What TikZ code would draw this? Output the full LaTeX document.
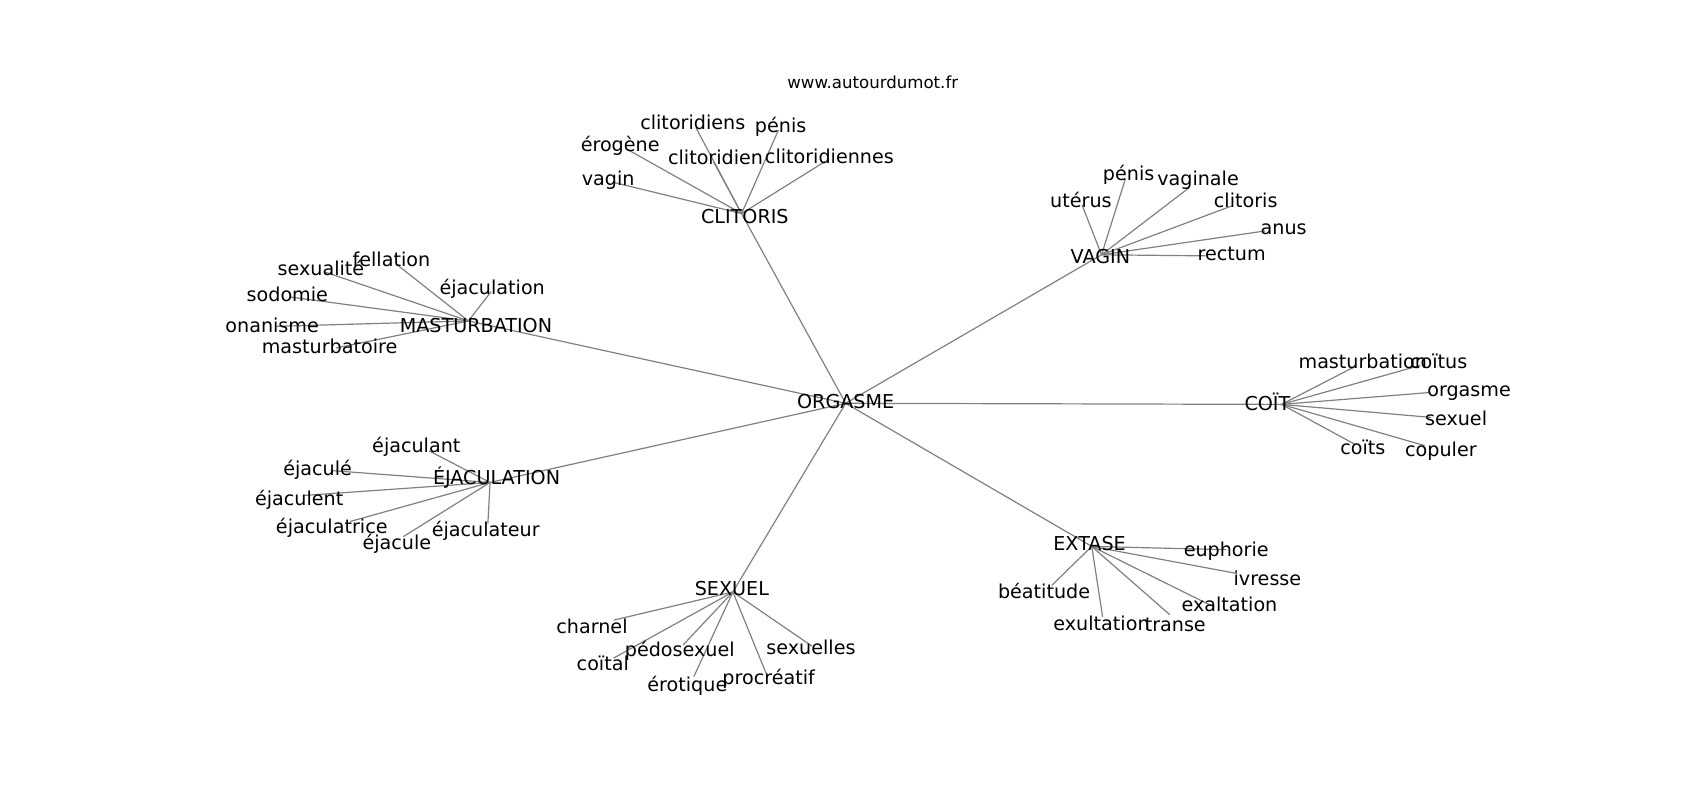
\documentclass[tikz,border=0pt]{standalone}
\usepackage{fontspec}
\setmainfont{DejaVu Sans}
\tikzset{
  lbl/.style={anchor=base, yshift=-3.5pt, inner sep=0pt, text=black,
    font=\fontsize{9.575}{11}\selectfont},
  ttl/.style={anchor=base, yshift=-3pt, inner sep=0pt, text=black,
    font=\fontsize{8.3}{10}\selectfont},
  edge/.style={draw=black!50, line width=0.6pt}
}
\begin{document}
\begin{tikzpicture}[x=0.5421pt, y=-0.5421pt]
\useasboundingbox (0,0) rectangle (1568,738);
% edge end points (node positions)
\coordinate (org) at (780,372);
\coordinate (clit) at (684,197);
\coordinate (vag) at (1016,235);
\coordinate (mas) at (432,296);
\coordinate (eja) at (452,445);
\coordinate (sex) at (676,546);
\coordinate (ext) at (1007,504);
\coordinate (coi) at (1182,373);
% leaves
\coordinate (c1) at (565,168); \coordinate (c2) at (579,138); \coordinate (c3) at (642,118);
\coordinate (c4) at (718,120); \coordinate (c5) at (658,149); \coordinate (c6) at (761,149);
\coordinate (v1) at (1038,165); \coordinate (v2) at (998,189); \coordinate (v3) at (1097,173);
\coordinate (v4) at (1136,190); \coordinate (v5) at (1167,213); \coordinate (v6) at (1112,236);
\coordinate (m1) at (366,244); \coordinate (m2) at (300,251); \coordinate (m3) at (453,269);
\coordinate (m4) at (268,274); \coordinate (m5) at (255,301); \coordinate (m6) at (310,321);
\coordinate (e1) at (396,416); \coordinate (e2) at (305,434); \coordinate (e3) at (280,457);
\coordinate (e4) at (323,481); \coordinate (e5) at (372,495); \coordinate (e6) at (450,483);
\coordinate (s1) at (566,572); \coordinate (s2) at (566,607); \coordinate (s3) at (630,595);
\coordinate (s4) at (640,624); \coordinate (s5) at (707,622); \coordinate (s6) at (749,596);
\coordinate (x1) at (1131,507); \coordinate (x2) at (970,540); \coordinate (x3) at (1141,529);
\coordinate (x4) at (1120,560); \coordinate (x5) at (1017,569); \coordinate (x6) at (1079,567);
\coordinate (k1) at (1250,338); \coordinate (k2) at (1310,337); \coordinate (k3) at (1319,362);
\coordinate (k4) at (1320,385); \coordinate (k5) at (1250,410); \coordinate (k6) at (1314,411);
% edges
\foreach \a/\b in {org/clit, org/vag, org/mas, org/eja, org/sex, org/ext, org/coi,
  clit/c1, clit/c2, clit/c3, clit/c4, clit/c5, clit/c6,
  vag/v1, vag/v2, vag/v3, vag/v4, vag/v5, vag/v6,
  mas/m1, mas/m2, mas/m3, mas/m4, mas/m5, mas/m6,
  eja/e1, eja/e2, eja/e3, eja/e4, eja/e5, eja/e6,
  sex/s1, sex/s2, sex/s3, sex/s4, sex/s5, sex/s6,
  ext/x1, ext/x2, ext/x3, ext/x4, ext/x5, ext/x6,
  coi/k1, coi/k2, coi/k3, coi/k4, coi/k5, coi/k6}
  \draw[edge] (\a) -- (\b);
% labels
\node[ttl] (title) at (805,76) {www.autourdumot.fr};
\node[lbl] (orgt) at (780,370) {ORGASME};
\node[lbl] (clitt) at (687,200) {CLITORIS};
\node[lbl] (vagt) at (1015,237) {VAGIN};
\node[lbl] (mast) at (439,300) {MASTURBATION};
\node[lbl] (ejat) at (458,440) {ÉJACULATION};
\node[lbl] (sext) at (675,543) {SEXUEL};
\node[lbl] (extt) at (1005,501) {EXTASE};
\node[lbl] (coit) at (1169,372) {COÏT};
\node[lbl] (c1t) at (561,165) {vagin};
\node[lbl] (c2t) at (572,133) {érogène};
\node[lbl] (c3t) at (639,113) {clitoridiens};
\node[lbl] (c4t) at (720,116) {pénis};
\node[lbl] (c5t) at (660,145) {clitoridien};
\node[lbl] (c6t) at (765,144) {clitoridiennes};
\node[lbl] (v1t) at (1041,160) {pénis};
\node[lbl] (v2t) at (997,185) {utérus};
\node[lbl] (v3t) at (1105,165) {vaginale};
\node[lbl] (v4t) at (1149,185) {clitoris};
\node[lbl] (v5t) at (1184,210) {anus};
\node[lbl] (v6t) at (1136,234) {rectum};
\node[lbl] (m1t) at (361,239) {fellation};
\node[lbl] (m2t) at (296,248) {sexualité};
\node[lbl] (m3t) at (454,265) {éjaculation};
\node[lbl] (m4t) at (265,272) {sodomie};
\node[lbl] (m5t) at (251,300) {onanisme};
\node[lbl] (m6t) at (304,320) {masturbatoire};
\node[lbl] (e1t) at (384,411) {éjaculant};
\node[lbl] (e2t) at (293,432) {éjaculé};
\node[lbl] (e3t) at (276,460) {éjaculent};
\node[lbl] (e4t) at (306,486) {éjaculatrice};
\node[lbl] (e5t) at (366,500) {éjacule};
\node[lbl] (e6t) at (448,488) {éjaculateur};
\node[lbl] (s1t) at (546,578) {charnel};
\node[lbl] (s2t) at (556,612) {coïtal};
\node[lbl] (s3t) at (627,599) {pédosexuel};
\node[lbl] (s4t) at (634,631) {érotique};
\node[lbl] (s5t) at (709,625) {procréatif};
\node[lbl] (s6t) at (748,597) {sexuelles};
\node[lbl] (x1t) at (1131,507) {euphorie};
\node[lbl] (x2t) at (963,546) {béatitude};
\node[lbl] (x3t) at (1169,534) {ivresse};
\node[lbl] (x4t) at (1134,558) {exaltation};
\node[lbl] (x5t) at (1016,575) {exultation};
\node[lbl] (x6t) at (1084,576) {transe};
\node[lbl] (k1t) at (1257,333) {masturbation};
\node[lbl] (k2t) at (1327,333) {coïtus};
\node[lbl] (k3t) at (1355,359) {orgasme};
\node[lbl] (k4t) at (1343,386) {sexuel};
\node[lbl] (k5t) at (1257,413) {coïts};
\node[lbl] (k6t) at (1329,415) {copuler};
\end{tikzpicture}
\end{document}
